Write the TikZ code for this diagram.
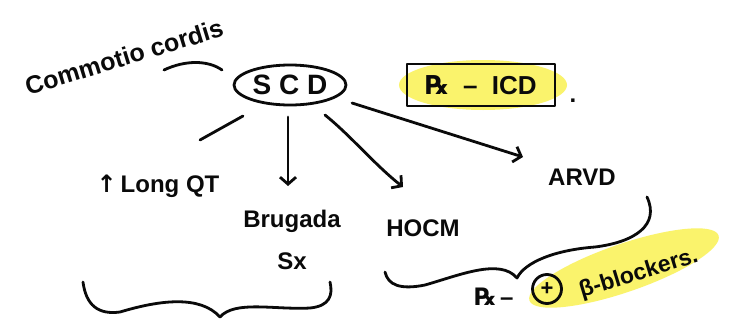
\documentclass[tikz,border=0pt]{standalone}
\usepackage{fontspec}
\setmainfont{Liberation Sans}
\newfontfamily\symfont{DejaVu Sans}
\usetikzlibrary{arrows.meta,shapes.geometric}
\definecolor{hilite}{RGB}{250,243,108}
\definecolor{ink}{RGB}{10,10,10}
\tikzset{
  pen/.style={draw=ink,line width=2.8pt,line cap=round,line join=round},
  arr/.style={pen,-{Straight Barb[length=7pt,width=16pt,line width=2.8pt]}},
  lbl/.style={inner sep=0pt,text=ink,font=\bfseries\fontsize{24}{26}\selectfont},
  glow/.style={fill=hilite,draw=none},
}
\begin{document}
\begin{tikzpicture}[x=1pt,y=-1pt]
\useasboundingbox[fill=white] (0,0) rectangle (730,324);

% yellow highlighter strokes
\fill[glow] (483,85) ellipse[x radius=84,y radius=25];
\fill[glow,rotate around={19:(624,268)}] (624,268) ellipse[x radius=100,y radius=24];

% central node and its causes
\node[pen,ellipse,minimum width=112pt,minimum height=40pt,lbl,font=\bfseries\fontsize{28}{30}\selectfont] (scd) at (290,85) {S C D};
\node[lbl,rotate=17,font=\bfseries\fontsize{25}{28}\selectfont] (cc) at (124,57) {Commotio cordis};
\node[lbl] (lqt) at (158,186) {{\symfont↑}\,Long QT};
\node[lbl,align=center,font=\bfseries\fontsize{24}{42}\selectfont] (bru) at (292,240) {Brugada\\Sx};
\node[lbl] (hocm) at (423,228) {HOCM};
\node[lbl] (arvd) at (582,177) {ARVD};

% treatment boxes
\node[pen,rectangle,minimum width=148pt,minimum height=42pt,lbl,font=\bfseries\fontsize{26}{28}\selectfont] (icd) at (481,85) {{\symfont℞}\ \ --\ \ ICD};
\node[lbl] (dot1) at (573,101) {.};
\node[lbl] (rx2) at (494,297) {{\symfont℞}\,--};
\node[pen,circle,minimum size=29pt,lbl,font=\bfseries\fontsize{22}{24}\selectfont] (pos) at (547,289) {+};
\node[lbl,rotate=17,font=\bfseries\fontsize{23}{25}\selectfont,anchor=west] (bb) at (580,292) {β-blockers.};

% anchor points for the hand-drawn connectors
\coordinate (c1) at (164,70);
\coordinate (c2) at (222,70);
\coordinate (q1) at (243,116);
\coordinate (q2) at (200,140);
\coordinate (b1) at (288,117);
\coordinate (b2) at (288,186);
\coordinate (h1) at (325,115);
\coordinate (h2) at (403,187);
\coordinate (a1) at (352,103);
\coordinate (a2) at (523,157);

\draw[pen] (c1) .. controls (185,60) and (208,60) .. (c2);
\draw[pen] (q1) -- (q2);
\draw[arr] (b1) -- (b2);
\draw[arr] (h1) .. controls (350,135) and (375,165) .. (h2);
\draw[arr] (a1) -- (a2);

% grouping braces
\coordinate (L1) at (83,282);
\coordinate (L2) at (330,282);
\coordinate (Lt) at (220,317);
\draw[pen] (L1) .. controls (86,305) and (98,315) .. (120,312)
  .. controls (160,300) and (200,295) .. (Lt)
  .. controls (235,300) and (275,310) .. (310,308)
  .. controls (330,306) and (333,295) .. (L2);

\coordinate (R1) at (385,272);
\coordinate (R2) at (647,197);
\coordinate (Rt) at (517,278);
\draw[pen] (R1) .. controls (388,285) and (400,290) .. (425,285)
  .. controls (460,275) and (500,258) .. (Rt)
  .. controls (525,262) and (555,250) .. (595,247)
  .. controls (635,242) and (660,225) .. (R2);

\end{tikzpicture}
\end{document}
